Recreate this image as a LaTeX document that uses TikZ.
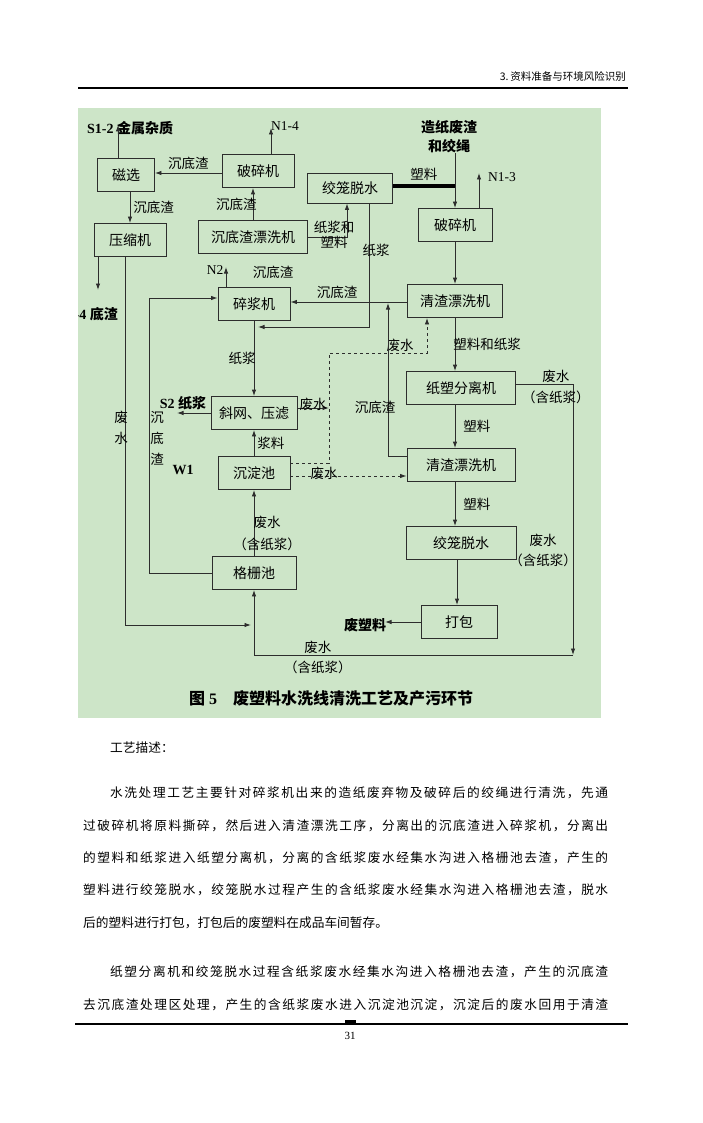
\documentclass[tikz,border=0pt]{standalone}
\usepackage{fontspec}
\setmainfont{Liberation Serif}
\newfontfamily\cjk{Noto Sans CJK SC}
\usetikzlibrary{shapes.geometric, arrows, arrows.meta}
\definecolor{figbg}{RGB}{205,229,200}
\definecolor{ln}{RGB}{45,45,45}
\tikzstyle{arrow} = [line width=0.9pt,->,>={Latex[length=6.5pt,width=4.5pt]},draw=ln]
\tikzstyle{conn} = [line width=0.9pt,draw=ln]
\tikzstyle{proc} = [rectangle, draw=ln, line width=0.9pt, minimum height=33pt, inner sep=0pt, font=\cjk\fontsize{14}{16}\selectfont]
\tikzstyle{lbl} = [inner sep=0pt, font=\cjk\fontsize{13.5}{15}\selectfont]
\tikzstyle{blbl} = [inner sep=0pt, font=\bfseries\fontsize{14}{16}\selectfont]
\tikzstyle{tag} = [inner sep=0pt, font=\fontsize{13.5}{15}\selectfont]
\tikzstyle{para} = [anchor=west, inner sep=0pt, font=\cjk\fontsize{12.7}{14}\selectfont]
% spread a line of characters over a given width
\def\spreadchars#1{\ifx#1\relax\unskip\else#1\hfil\expandafter\spreadchars\fi}
\newcommand\spreadline[2]{\makebox[#1][s]{\spreadchars#2\relax}}

\begin{document}
\begin{tikzpicture}[x=1pt, y=1pt]
\useasboundingbox (0,0) rectangle (703,-1123);
\fill[white] (0,0) rectangle (703,-1123);

% page header
\node (head) [anchor=east, inner sep=0pt, font=\cjk\fontsize{10.5}{12}\selectfont] at (626,-76) {3.\,资料准备与环境风险识别};
\draw[line width=2.2pt] (78,-88) -- (628,-88);

% figure
\fill[figbg] (78,-108) rectangle (601,-718);
\begin{scope}
\clip (78,-108) rectangle (601,-718);

% process boxes
\node (pulper) [proc, minimum width=72pt] at (254,-304) {碎浆机};
\node (sedwash) [proc, minimum width=109pt, node distance=67pt, above of=pulper, xshift=-1pt] {沉底渣漂洗机};
\node (crushA) [proc, minimum width=72pt, node distance=66pt, above of=sedwash, xshift=5pt] {破碎机};
\node (mag) [proc, minimum width=57pt, node distance=132pt, left of=crushA, yshift=-4pt] {磁选};
\node (press) [proc, minimum width=72pt, node distance=65pt, below of=mag, xshift=4pt] {压缩机};
\node (screen) [proc, minimum width=86pt, node distance=109pt, below of=pulper] {斜网、压滤};
\node (settle) [proc, minimum width=72pt, node distance=60pt, below of=screen] {沉淀池};
\node (grid) [proc, minimum width=84pt, node distance=100pt, below of=settle] {格栅池};
\node (cageA) [proc, minimum width=85pt, minimum height=30pt] at (350,-188) {绞笼脱水};
\node (crushB) [proc, minimum width=74pt] at (455,-225) {破碎机};
\node (rinseA) [proc, minimum width=95pt, node distance=76pt, below of=crushB] {清渣漂洗机};
\node (sep) [proc, minimum width=109pt, node distance=87pt, below of=rinseA, xshift=6pt] {纸塑分离机};
\node (rinseB) [proc, minimum width=108pt, node distance=77pt, below of=sep] {清渣漂洗机};
\node (cageB) [proc, minimum width=110pt, node distance=78pt, below of=rinseB] {绞笼脱水};
\node (bale) [proc, minimum width=76pt, node distance=79pt, below of=cageB, xshift=-2pt] {打包};

% inputs and outputs
\node (s12) [blbl, anchor=west] at (87,-128) {S1-2 {\cjk 金属杂质}};
\node (n14) [tag] at (285,-126) {N1-4};
\node (s14) [blbl, anchor=east] at (118,-314) {S1-4 {\cjk 底渣}};
\node (feed) [blbl, align=center, font=\cjk\bfseries\fontsize{14}{19}\selectfont] at (449,-137) {造纸废渣\\和绞绳};
\node (n13) [tag] at (502,-177) {N1-3};
\node (n2) [tag] at (215,-270) {N2};
\node (s2) [blbl] at (183,-403) {S2 {\cjk 纸浆}};
\node (w1) [blbl] at (183,-470) {W1};
\node (waste) [blbl] at (365,-625) {{\cjk 废塑料}};

\coordinate (s12end) at (118,-125);
\coordinate (n14end) at (271,-128);
\coordinate (s14end) at (98,-290);
\coordinate (n13end) at (479,-173);
\coordinate (n2end) at (226,-267);
\coordinate (s2end) at (177,-413);
\coordinate (wasteend) at (385,-622);
\coordinate (pjoin) at (258,-327);
\coordinate (sjoin) at (388,-303);
\coordinate (wjoin) at (251,-625);
\coordinate (dcorner) at (329,-353);
\coordinate (fjoin) at (329,-408);
\coordinate (rcorner) at (573,-655);

% left part
\draw [arrow] (mag.north -| s12end) -- (s12end);
\draw [arrow] (crushA.north -| n14end) -- (n14end);
\draw [arrow] ([yshift=-2pt]crushA.west) -- node (l1) [lbl, above=3pt] {沉底渣} ([yshift=2pt]mag.east);
\draw [arrow] (mag.south -| press) -- node (l2) [lbl, right=3pt] {沉底渣} (press.north);
\draw [arrow] (sedwash.north) -- node (l3) [lbl, left=-4pt] {沉底渣} (sedwash.north |- crushA.south);
\draw [arrow] ([xshift=-32pt]press.south) -- (s14end);
\draw [arrow] ([xshift=-5pt]press.south) |- (wjoin);
\node (lvw) [lbl, align=center, font=\cjk\fontsize{13.5}{21}\selectfont] at (121,-427.5) {废\\水};
\node (lvs) [lbl, align=center, font=\cjk\fontsize{13.5}{21}\selectfont] at (157,-438.5) {沉\\底\\渣};
\draw [arrow] (grid.west) -- ++(-62,0) |- ([yshift=6pt]pulper.west);
\draw [arrow] (pulper.north -| n2end) -- (n2end);
\node (lsed) [lbl] at (273,-272) {沉底渣};

% upper right part
\draw [arrow] (sedwash.east) -| ([xshift=-3pt]cageA.south);
\node (lmix) [lbl, align=center] at (334,-235) {纸浆和\\塑料};
\draw [arrow] ([xshift=19pt]cageA.south) |- node (l4) [lbl, pos=0.19, xshift=7pt] {纸浆} (pjoin);
\draw [line width=4.5pt] ([yshift=2pt]cageA.east) -- node (l5) [lbl, above=3pt] {塑料} ([yshift=2pt]cageA.east -| crushB);
\draw [arrow] (feed.south -| crushB) -- (crushB.north);
\draw [arrow] ([xshift=24pt]crushB.north) -- (n13end);
\draw [arrow] (crushB) -- (rinseA);
\draw [arrow] ([yshift=-1pt]rinseA.west) -- node (l6) [lbl, pos=0.6, above=3pt] {沉底渣} ([yshift=2pt]pulper.east);

% middle column
\draw [arrow] (pulper) -- node (l7) [lbl, left=-2pt] {纸浆} (screen);
\draw [arrow] (screen.west) -- (s2end);
\draw [arrow] (settle) -- node (l8) [lbl, right=3pt] {浆料} (screen);
\draw [arrow] (grid) -- node (l9) [lbl, align=center, pos=0.34, xshift=13pt, font=\cjk\fontsize{13.5}{22}\selectfont] {废水\\（含纸浆）} (settle);
\draw [arrow] ([yshift=5pt]screen.east) -- node (l10) [lbl, above=-3pt] {废水} (fjoin);

% waste water, dashed
\draw [arrow, dashed] ([yshift=10pt]settle.east) -| (dcorner) -| ([xshift=-28pt]rinseA.south);
\node (ldw) [lbl] at (400,-345) {废水};
\draw [arrow, dashed] ([yshift=-3pt]settle.east) -- node (l11) [lbl, pos=0.29, above=-4pt] {废水} ([yshift=-3pt]settle.east -| rinseB.west);

% right column
\draw [arrow] (rinseA) -- node (l12) [lbl, right=-2pt] {塑料和纸浆} (rinseA |- sep.north);
\draw [arrow] ([xshift=-6pt]sep.south) -- node (l13) [lbl, right=8pt] {塑料} ([xshift=-6pt]rinseB.north);
\draw [arrow] ([yshift=9pt]rinseB.west) -| node (l14) [lbl, pos=0.66, xshift=-13pt] {沉底渣} (sjoin);
\draw [arrow] ([xshift=-6pt]rinseB.south) -- node (l15) [lbl, right=8pt] {塑料} ([xshift=-6pt]cageB.north);
\node (lcage) [lbl, align=center, font=\cjk\fontsize{13.5}{20}\selectfont] at (543,-550) {废水\\（含纸浆）};
\draw [arrow] ([xshift=-4pt]cageB.south) -- ([xshift=-4pt]cageB.south |- bale.north);
\draw [arrow] (bale.west) -- (wasteend);

% waste water back to the grid pool
\draw [arrow] ([yshift=4pt]sep.east) -| node (l16) [lbl, align=center, pos=0.35, yshift=-2.5pt, font=\cjk\fontsize{13.5}{21}\selectfont] {废水\\（含纸浆）} (rcorner);
\draw [arrow] (rcorner) -| node (l17) [lbl, align=center, pos=0.4, yshift=-2pt, font=\cjk\fontsize{13.5}{20}\selectfont] {废水\\（含纸浆）} (grid.south);

\node (cap) [inner sep=0pt, font=\bfseries\fontsize{16}{18}\selectfont] at (331,-698) {{\cjk 图}\ 5\quad{\cjk 废塑料水洗线清洗工艺及产污环节}};
\end{scope}

% text below the figure
\node (p0) [para] at (110,-748) {工艺描述：};
\node (p1) [para] at (110,-793) {\spreadline{498pt}{水洗处理工艺主要针对碎浆机出来的造纸废弃物及破碎后的绞绳进行清洗，先通}};
\node (p2) [para] at (83,-826) {\spreadline{525pt}{过破碎机将原料撕碎，然后进入清渣漂洗工序，分离出的沉底渣进入碎浆机，分离出}};
\node (p3) [para] at (83,-858) {\spreadline{525pt}{的塑料和纸浆进入纸塑分离机，分离的含纸浆废水经集水沟进入格栅池去渣，产生的}};
\node (p4) [para] at (83,-890) {\spreadline{525pt}{塑料进行绞笼脱水，绞笼脱水过程产生的含纸浆废水经集水沟进入格栅池去渣，脱水}};
\node (p5) [para] at (83,-923) {后的塑料进行打包，打包后的废塑料在成品车间暂存。};
\node (p6) [para] at (110,-972) {\spreadline{498pt}{纸塑分离机和绞笼脱水过程含纸浆废水经集水沟进入格栅池去渣，产生的沉底渣}};
\node (p7) [para] at (83,-1005) {\spreadline{525pt}{去沉底渣处理区处理，产生的含纸浆废水进入沉淀池沉淀，沉淀后的废水回用于清渣}};

% page footer
\draw[line width=2pt] (75,-1024) -- (628,-1024);
\fill (345,-1020) rectangle (356,-1024);
\node (pg) [inner sep=0pt, font=\fontsize{11}{13}\selectfont] at (350,-1036) {31};
\end{tikzpicture}
\end{document}
